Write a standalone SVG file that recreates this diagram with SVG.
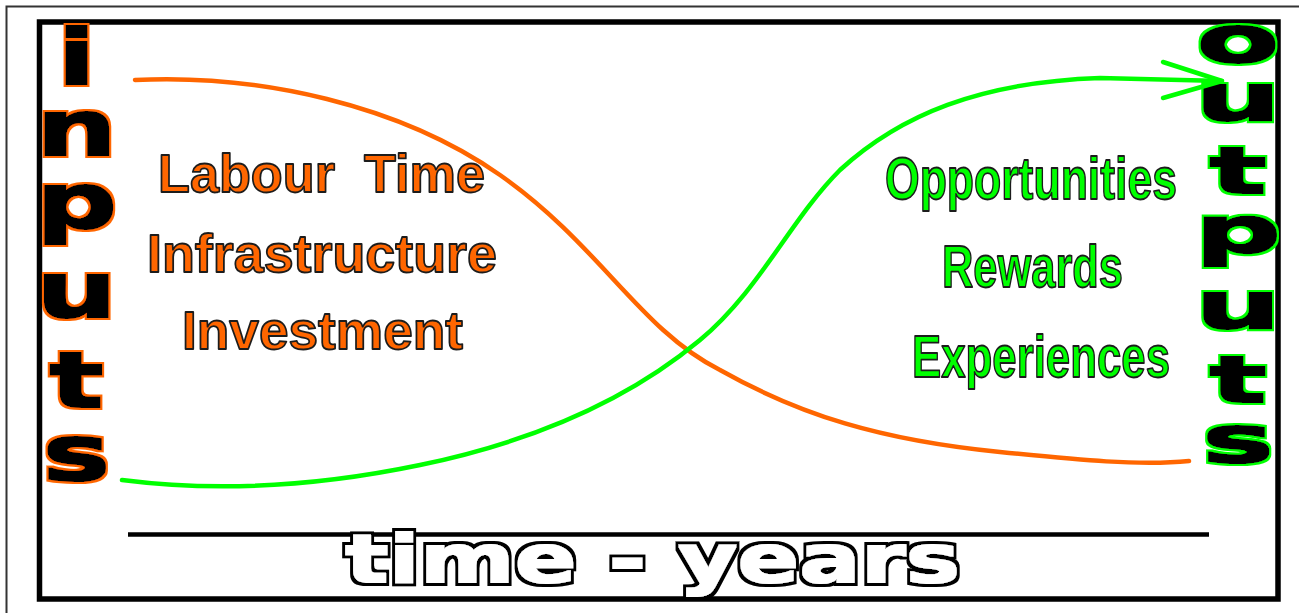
<svg xmlns="http://www.w3.org/2000/svg" width="1299" height="613" viewBox="0 0 1299 613">
  <style>
    .stack { font-family: "DejaVu Sans", "Liberation Sans", sans-serif; font-weight: bold; fill: #000; text-anchor: middle; }
    .lbl { font-family: "Liberation Sans", Arial, sans-serif; font-weight: bold; stroke: #1c1c1c; stroke-width: 1.8; stroke-linejoin: round; }
    .lbl-in { fill: #ff6600; font-size: 54px; }
    .lbl-out { fill: #00ff00; font-size: 60px; }
    .axis-title { font-family: "DejaVu Sans", "Liberation Sans", sans-serif; font-weight: bold; font-size: 66px; fill: #fff; }
    .curve { fill: none; stroke-width: 4.5; stroke-linecap: round; stroke-linejoin: round; }
  </style>

  <defs>
    <!-- heavy black glyphs with a coloured rim -->
    <filter id="rim-orange" x="-20%" y="-5%" width="140%" height="110%">
      <feMorphology in="SourceAlpha" operator="dilate" radius="3.2" result="outer"/>
      <feFlood flood-color="#ff6600"/>
      <feComposite in2="outer" operator="in" result="rim"/>
      <feMorphology in="SourceAlpha" operator="dilate" radius="1.2" result="core"/>
      <feMerge><feMergeNode in="rim"/><feMergeNode in="core"/></feMerge>
    </filter>
    <filter id="rim-green" x="-20%" y="-5%" width="140%" height="110%">
      <feMorphology in="SourceAlpha" operator="dilate" radius="3.2" result="outer"/>
      <feFlood flood-color="#00ff00"/>
      <feComposite in2="outer" operator="in" result="rim"/>
      <feMorphology in="SourceAlpha" operator="dilate" radius="1.2" result="core"/>
      <feMerge><feMergeNode in="rim"/><feMergeNode in="core"/></feMerge>
    </filter>
    <!-- white glyphs with a black rim -->
    <filter id="rim-black" x="-5%" y="-20%" width="110%" height="140%">
      <feMorphology in="SourceAlpha" operator="dilate" radius="3.5" result="outer"/>
      <feMorphology in="SourceGraphic" operator="dilate" radius="1" result="core"/>
      <feMerge><feMergeNode in="outer"/><feMergeNode in="core"/></feMerge>
    </filter>
  </defs>

  <rect width="1299" height="613" fill="#fff"/>

  <!-- page edge and chart frame -->
  <g id="frame">
    <path d="M6.5,613 V6.5 H1299" fill="none" stroke="#333" stroke-width="2"/>
    <rect x="39.5" y="22" width="1238.5" height="577" fill="none" stroke="#000" stroke-width="5.5"/>
  </g>

  <!-- time axis -->
  <g id="time-axis">
    <line x1="128" y1="534.5" x2="1209" y2="534.5" stroke="#000" stroke-width="4.5"/>
    <g filter="url(#rim-black)">
      <text class="axis-title" x="345" y="582" textLength="615" lengthAdjust="spacingAndGlyphs">time - years</text>
    </g>
  </g>

  <!-- vertical "inputs" caption, one letter per line, stretched 1.5x -->
  <g id="inputs" filter="url(#rim-orange)">
    <text class="stack" font-size="76" transform="scale(1.5,1)"><tspan x="51" y="84">i</tspan><tspan x="51" y="155">n</tspan><tspan x="51" y="228">p</tspan><tspan x="51" y="317">u</tspan><tspan x="51" y="407">t</tspan><tspan x="51" y="480">s</tspan></text>
  </g>

  <!-- vertical "outputs" caption, one letter per line, stretched 1.9x -->
  <g id="outputs" filter="url(#rim-green)">
    <text class="stack" font-size="64" transform="scale(1.9,1)"><tspan x="651.6" y="62">o</tspan><tspan x="651.6" y="120">u</tspan><tspan x="651.6" y="193">t</tspan><tspan x="651.6" y="253">p</tspan><tspan x="651.6" y="328">u</tspan><tspan x="651.6" y="402">t</tspan><tspan x="651.6" y="462">s</tspan></text>
  </g>

  <!-- input items -->
  <g id="input-items" class="lbl lbl-in">
    <text x="158" y="192" textLength="327" lengthAdjust="spacingAndGlyphs" xml:space="preserve">Labour  Time</text>
    <text x="147" y="272" textLength="350" lengthAdjust="spacingAndGlyphs">Infrastructure</text>
    <text x="182" y="349" textLength="281" lengthAdjust="spacingAndGlyphs">Investment</text>
  </g>

  <!-- output items -->
  <g id="output-items" class="lbl lbl-out">
    <text x="885" y="199" textLength="292" lengthAdjust="spacingAndGlyphs">Opportunities</text>
    <text x="942" y="287" textLength="181" lengthAdjust="spacingAndGlyphs">Rewards</text>
    <text x="912" y="377" textLength="258" lengthAdjust="spacingAndGlyphs">Experiences</text>
  </g>

  <!-- input and output curves -->
  <g id="connectors">
    <path class="curve" stroke="#ff6600" d="M135,80 C260,74 400,105 500,175 C600,245 640,330 720,370 C800,415 880,440 1000,452 C1080,460 1140,466 1189,461"/>
    <path class="curve" stroke="#00ff00" d="M122,480 C200,490 300,490 420,465 C550,438 640,390 700,340 C760,290 790,220 840,170 C900,115 980,82 1100,78 L1222,81"/>
    <polyline class="curve" stroke="#00ff00" stroke-width="5.5" points="1163,62 1222,81 1163,98"/>
  </g>
</svg>
